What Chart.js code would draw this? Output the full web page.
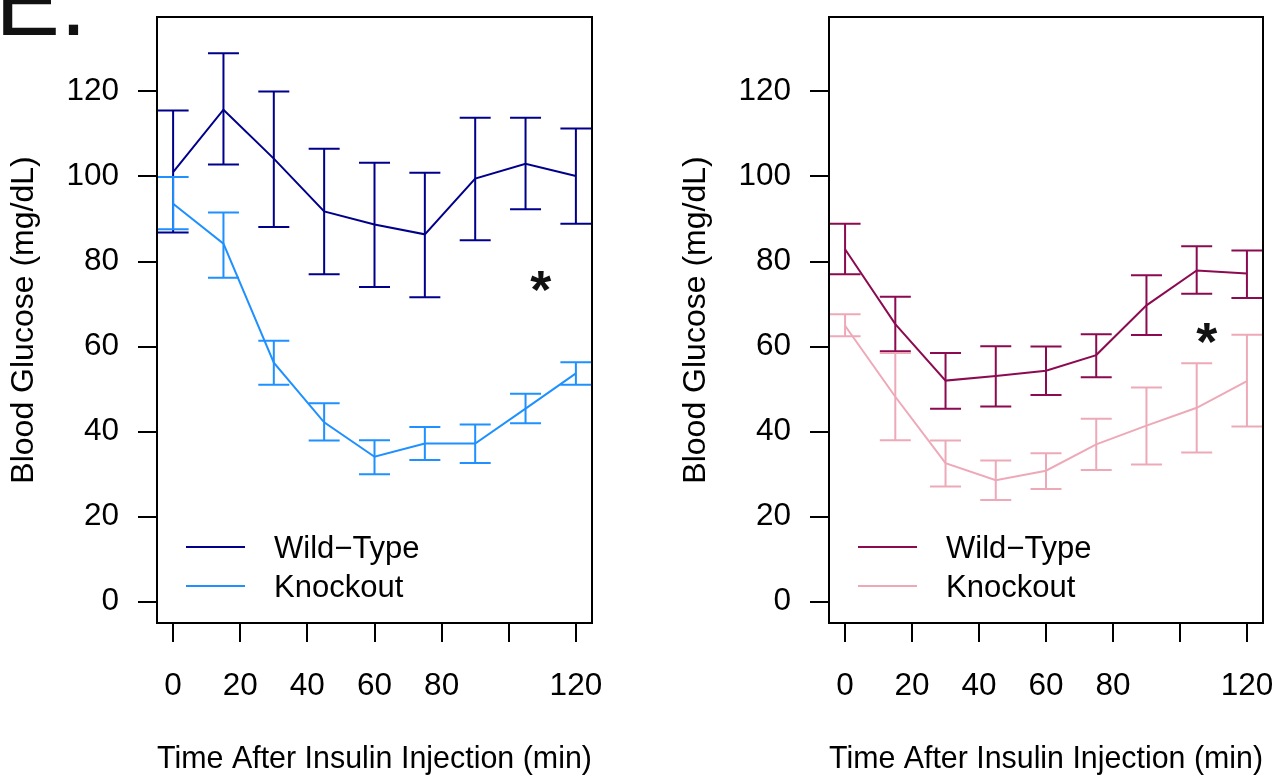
<!DOCTYPE html>
<html><head><meta charset="utf-8">
<script src="https://cdn.jsdelivr.net/npm/chart.js@4.4.1/dist/chart.umd.min.js"></script>
<style>
html,body{margin:0;padding:0;background:#fff;width:1279px;height:778px;overflow:hidden}
#c1{position:absolute;left:0;top:0}
#c2{position:absolute;left:672px;top:0}
</style></head><body>
<canvas id="c1" width="640" height="778"></canvas>
<canvas id="c2" width="607" height="778"></canvas>
<script>
const times = [0,15,30,45,60,75,90,105,120];
const xTickValues = [0,20,40,60,80,100,120];
const xTickLabels = ['0','20','40','60','80','','120'];
const yTickValues = [0,20,40,60,80,100,120];
const yTickLabels = ['0','20','40','60','80','100','120'];
const seriesLabels = ['Wild\u2212Type','Knockout'];
const xTitle = 'Time After Insulin Injection (min)';
const yTitle = 'Blood Glucose (mg/dL)';
const panelLabel = 'E.';

const wtLeftMean = [101.0,115.7,104.2,91.8,88.7,86.4,99.5,103.0,100.1];
const wtLeftHigh = [115.5,129.0,120.0,106.5,103.2,100.9,113.8,113.8,111.3];
const wtLeftLow  = [86.8,102.8,88.1,77.0,74.0,71.6,85.0,92.3,88.9];
const koLeftMean = [93.6,84.2,56.2,42.2,34.1,37.2,37.2,45.4,53.7];
const koLeftHigh = [99.9,91.5,61.4,46.7,38.0,41.1,41.7,48.9,56.3];
const koLeftLow  = [87.6,76.2,51.0,37.9,30.0,33.3,32.6,42.0,51.0];

const wtRightMean = [82.9,65.3,52.0,53.1,54.3,58.0,69.7,77.9,77.2];
const wtRightHigh = [88.9,71.7,58.5,60.1,60.0,62.9,76.8,83.6,82.6];
const wtRightLow  = [77.0,58.9,45.4,45.9,48.6,52.8,62.7,72.4,71.4];
const koRightMean = [64.9,48.2,32.6,28.6,30.8,37.0,41.4,45.6,51.9];
const koRightHigh = [67.6,58.5,37.9,33.2,34.9,43.0,50.4,56.1,62.8];
const koRightLow  = [62.4,38.0,27.1,23.9,26.5,31.0,32.3,35.1,41.2];

const asteriskLeft = {x:109.5, y:75.3};
const asteriskRight = {x:108.0, y:63.1};

const FONT = 'Liberation Sans';

const panelPlugin = {
  id: 'panel',
  afterDatasetsDraw(chart) {
    const ctx = chart.ctx, xs = chart.scales.x, ys = chart.scales.y;
    chart.data.datasets.forEach(ds => {
      ctx.save();
      ctx.strokeStyle = ds.borderColor; ctx.lineWidth = 2;
      ds.data.forEach((pt, i) => {
        const px = xs.getPixelForValue(pt.x);
        const top = ys.getPixelForValue(ds.errHigh[i]);
        const bot = ys.getPixelForValue(ds.errLow[i]);
        ctx.beginPath();
        ctx.moveTo(px, top); ctx.lineTo(px, bot);
        ctx.moveTo(px - 15.5, top); ctx.lineTo(px + 15.5, top);
        ctx.moveTo(px - 15.5, bot); ctx.lineTo(px + 15.5, bot);
        ctx.stroke();
      });
      ctx.restore();
    });
  },
  afterDraw(chart, args, opts) {
    const ctx = chart.ctx, a = chart.chartArea, xs = chart.scales.x, ys = chart.scales.y;
    ctx.save();
    ctx.strokeStyle = '#000'; ctx.lineWidth = 2;
    ctx.strokeRect(a.left, a.top, a.right - a.left, a.bottom - a.top);
    chart.data.datasets.forEach((ds, i) => {
      const y = a.bottom - 76 + i * 39;
      ctx.strokeStyle = ds.borderColor; ctx.lineWidth = 2;
      ctx.beginPath(); ctx.moveTo(a.left + 29, y); ctx.lineTo(a.left + 88, y); ctx.stroke();
      ctx.fillStyle = '#000'; ctx.font = '31px "' + FONT + '"';
      ctx.textBaseline = 'alphabetic'; ctx.textAlign = 'left';
      ctx.fillText(ds.label, a.left + 117, y + 11);
    });
    const st = opts.star;
    ctx.font = 'bold 54px "' + FONT + '"';
    const m = ctx.measureText('*');
    const w = m.actualBoundingBoxRight + m.actualBoundingBoxLeft;
    const px = xs.getPixelForValue(st.x), py = ys.getPixelForValue(st.y);
    ctx.fillStyle = '#111'; ctx.textAlign = 'left'; ctx.textBaseline = 'alphabetic';
    ctx.fillText('*', px - w / 2 + m.actualBoundingBoxLeft, py + (m.actualBoundingBoxAscent - m.actualBoundingBoxDescent) / 2);
    if (opts.label) {
      ctx.font = '97px "' + FONT + '"';
      ctx.fillStyle = '#111';
      ctx.fillText(opts.label, -4.7, 35);
    }
    ctx.restore();
  }
};

function makeChart(id, wt, ko, colors, star, label, padRight) {
  const mk = (mean) => times.map((t, i) => ({x: t, y: mean[i]}));
  const tickFont = {family: FONT, size: 31.5};
  const titleFont = {family: FONT, size: 32};
  return new Chart(document.getElementById(id), {
    type: 'line',
    data: {
      datasets: [
        {label: seriesLabels[0], data: mk(wt[0]), errHigh: wt[1], errLow: wt[2],
         borderColor: colors[0], borderWidth: 2, pointRadius: 0, tension: 0, fill: false},
        {label: seriesLabels[1], data: mk(ko[0]), errHigh: ko[1], errLow: ko[2],
         borderColor: colors[1], borderWidth: 2, pointRadius: 0, tension: 0, fill: false}
      ]
    },
    options: {
      responsive: false, animation: false, devicePixelRatio: 1,
      layout: {padding: {top: 17, right: padRight, left: 0, bottom: 0}},
      plugins: {legend: {display: false}, tooltip: {enabled: false},
                panel: {star: star, label: label}},
      scales: {
        x: {
          type: 'linear', min: -4.8, max: 124.8,
          afterFit(s) { s.height = 155; s.paddingLeft = 0; s.paddingRight = 0; s.paddingTop = 0; s.paddingBottom = 0; },
          afterBuildTicks(s) { s.ticks = xTickValues.map(v => ({value: v})); },
          grid: {display: true, drawOnChartArea: false, drawTicks: true, tickLength: 19, color: '#000', lineWidth: 2},
          border: {display: false},
          ticks: {padding: 25, color: '#000', font: tickFont, maxRotation: 0, autoSkip: false,
                  callback: (v) => { const k = xTickValues.indexOf(v); return k >= 0 ? xTickLabels[k] : ''; }},
          title: {display: true, text: xTitle, color: '#000', font: titleFont, padding: {top: 0, bottom: 0}}
        },
        y: {
          type: 'linear', min: -5.0, max: 137.5,
          afterFit(s) { s.width = 157; s.paddingTop = 0; s.paddingBottom = 0; s.paddingLeft = 0; s.paddingRight = 0; },
          afterBuildTicks(s) { s.ticks = yTickValues.map(v => ({value: v})); },
          grid: {display: true, drawOnChartArea: false, drawTicks: true, tickLength: 19, color: '#000', lineWidth: 2},
          border: {display: false},
          ticks: {padding: 19, color: '#000', font: tickFont, autoSkip: false,
                  callback: (v) => { const k = yTickValues.indexOf(v); return k >= 0 ? yTickLabels[k] : ''; }},
          title: {display: true, text: yTitle, color: '#000', font: titleFont, padding: {top: 5, bottom: 0}}
        }
      }
    },
    plugins: [panelPlugin]
  });
}

makeChart('c1', [wtLeftMean, wtLeftHigh, wtLeftLow], [koLeftMean, koLeftHigh, koLeftLow],
          ['#00008B', '#1E90FF'], asteriskLeft, panelLabel, 48);
makeChart('c2', [wtRightMean, wtRightHigh, wtRightLow], [koRightMean, koRightHigh, koRightLow],
          ['#8B0A50', '#EEA9B8'], asteriskRight, null, 16);
</script>
</body></html>
